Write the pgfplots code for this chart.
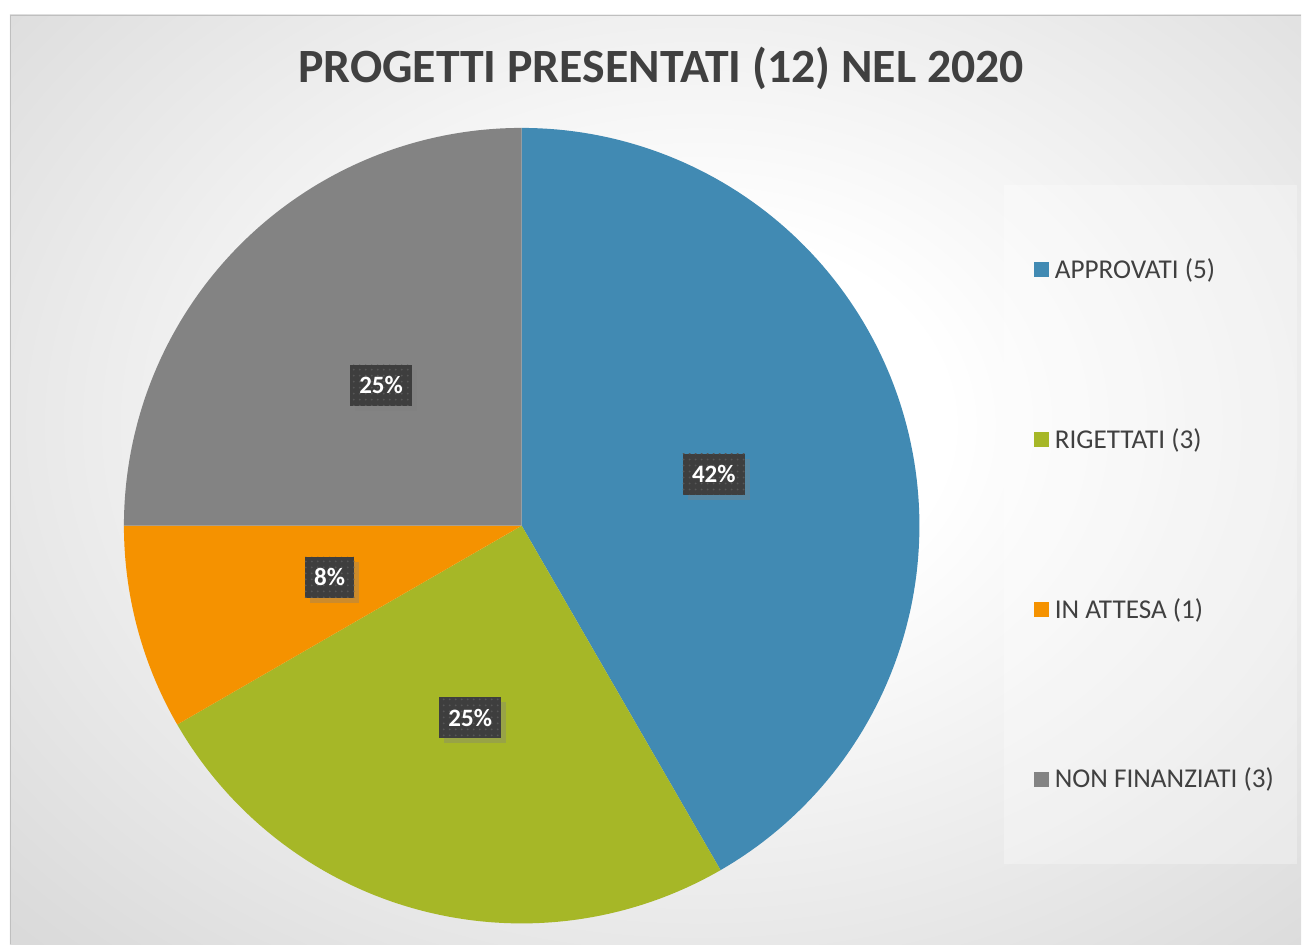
\documentclass[border=0pt]{standalone}
\usepackage{pgfplots}
\pgfplotsset{compat=1.18}
\usepackage{fontspec}
\setmainfont{Carlito}
\usetikzlibrary{patterns,shadows}
\definecolor{cA}{HTML}{418AB3}
\definecolor{cB}{HTML}{A6B727}
\definecolor{cC}{HTML}{F59200}
\definecolor{cD}{HTML}{838383}
\definecolor{txt}{HTML}{404040}
\definecolor{lab}{HTML}{3E3E3E}
\definecolor{labdot}{HTML}{575757}
\definecolor{bgout}{HTML}{BCBCBC}
\definecolor{bgmid}{HTML}{DCDCDC}
\definecolor{bgmid2}{HTML}{C5C5C5}
\pgfdeclareradialshading{bgshade}{\pgfpoint{0bp}{0bp}}{color(0bp)=(white); color(9bp)=(white); color(33bp)=(bgmid); color(53bp)=(bgmid2); color(71bp)=(bgout)}
% data: counts per category
\def\vA{5}\def\vB{3}\def\vC{1}\def\vD{3}
\pgfmathsetmacro{\total}{\vA+\vB+\vC+\vD}
\pgfmathsetmacro{\aA}{90}
\pgfmathsetmacro{\aB}{\aA-360*\vA/\total}
\pgfmathsetmacro{\aC}{\aB-360*\vB/\total}
\pgfmathsetmacro{\aD}{\aC-360*\vC/\total}
\pgfmathsetmacro{\aE}{\aD-360*\vD/\total}
\pgfmathsetmacro{\mA}{(\aA+\aB)/2}
\pgfmathsetmacro{\mB}{(\aB+\aC)/2}
\pgfmathsetmacro{\mC}{(\aC+\aD)/2}
\pgfmathsetmacro{\mD}{(\aD+\aE)/2}
\pgfmathtruncatemacro{\pA}{round(100*\vA/\total)}
\pgfmathtruncatemacro{\pB}{round(100*\vB/\total)}
\pgfmathtruncatemacro{\pC}{round(100*\vC/\total)}
\pgfmathtruncatemacro{\pD}{round(100*\vD/\total)}
\def\cx{522}\def\cy{419}\def\R{398}\def\Rl{199}
\begin{document}
\begin{tikzpicture}
\begin{axis}[
  scale only axis, width=651pt, height=472.5pt,
  xmin=0, xmax=1302, ymin=0, ymax=945,
  hide axis, clip=false, enlargelimits=false,
  legend image code/.code={\fill[#1] (0pt,-3.75pt) rectangle (7.5pt,3.75pt);},
  legend cell align=left,
  legend style={at={(0.7942,0.4444)}, anchor=west, draw=none, fill=none,
    inner sep=0pt, column sep=3pt, row sep=0pt,
    font=\fontsize{13.6}{15}\selectfont, text=txt,
    nodes={inner sep=0pt, minimum height=85pt}},
  samples=120,
]
\path (axis cs:0,0) rectangle (axis cs:1302,945);
% background
\begin{scope}
\clip (axis cs:10,0) rectangle (axis cs:1302,930);
\shade[shading=bgshade] (axis cs:10,-5) rectangle (axis cs:1390,1045);
\end{scope}
\draw[color=black!25, line width=0.8pt] (axis cs:10.4,0) -- (axis cs:10.4,929.6) -- (axis cs:1302,929.6);
% legend panel
\fill[white, opacity=0.3] (axis cs:1005,80) rectangle (axis cs:1298,760);
% slices
\addplot[fill=cA, draw=none, domain=\aB:\aA] ({\cx+\R*cos(x)},{\cy+\R*sin(x)}) -- (axis cs:\cx,\cy) -- cycle;
\addlegendentry{APPROVATI (5)}
\addplot[fill=cB, draw=none, domain=\aC:\aB] ({\cx+\R*cos(x)},{\cy+\R*sin(x)}) -- (axis cs:\cx,\cy) -- cycle;
\addlegendentry{RIGETTATI (3)}
\addplot[fill=cC, draw=none, domain=\aD:\aC] ({\cx+\R*cos(x)},{\cy+\R*sin(x)}) -- (axis cs:\cx,\cy) -- cycle;
\addlegendentry{IN ATTESA (1)}
\addplot[fill=cD, draw=none, domain=\aE:\aD] ({\cx+\R*cos(x)},{\cy+\R*sin(x)}) -- (axis cs:\cx,\cy) -- cycle;
\addlegendentry{NON FINANZIATI (3)}
% data labels
\tikzset{plab/.style={drop shadow={shadow xshift=2.5pt, shadow yshift=-2.5pt, opacity=0.35},
  preaction={fill=lab}, pattern=dots, pattern color=labdot,
  text=white, font=\bfseries\fontsize{12.5}{14}\selectfont,
  inner xsep=4.7pt, inner ysep=0pt, minimum height=20.5pt}}
\node[plab] at (axis cs:{\cx+\Rl*cos(\mA)},{\cy+\Rl*sin(\mA)}) {\pA\%};
\node[plab] at (axis cs:{\cx+\Rl*cos(\mB)},{\cy+\Rl*sin(\mB)}) {\pB\%};
\node[plab] at (axis cs:{\cx+\Rl*cos(\mC)},{\cy+\Rl*sin(\mC)}) {\pC\%};
\node[plab] at (axis cs:{\cx+\Rl*cos(\mD)},{\cy+\Rl*sin(\mD)}) {\pD\%};
% title
\node[text=txt, font=\bfseries\fontsize{23.9}{27}\selectfont] at (axis cs:661.5,877) {PROGETTI PRESENTATI (12) NEL 2020};
\end{axis}
\end{tikzpicture}
\end{document}
